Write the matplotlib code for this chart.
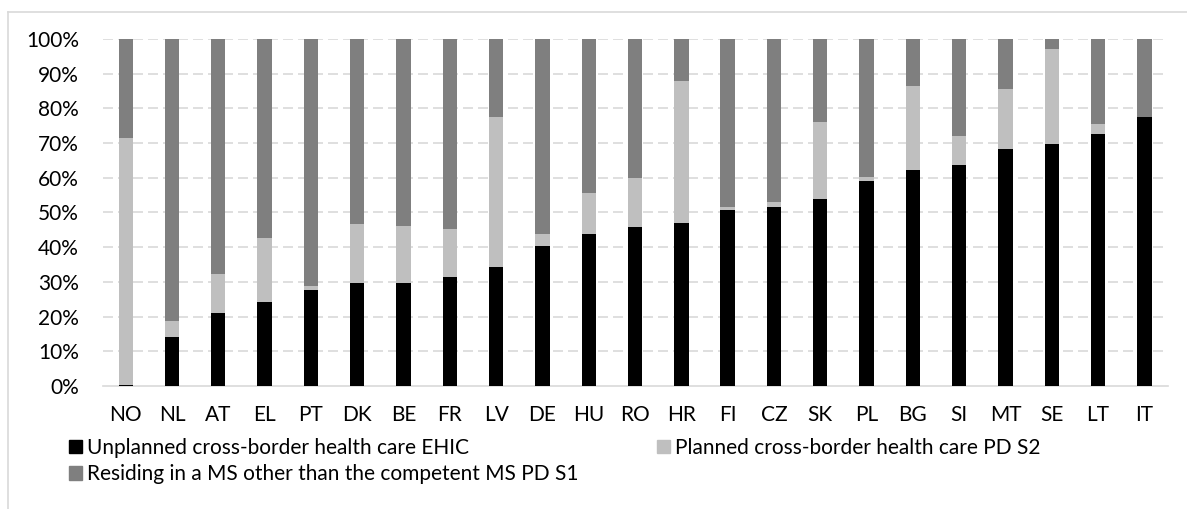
import matplotlib.pyplot as plt
from matplotlib.lines import Line2D
from matplotlib.patches import Patch

plt.rcParams['font.family'] = ['Lato', 'DejaVu Sans']

# 数据 (份额, %)
countries = ['NO', 'NL', 'AT', 'EL', 'PT', 'DK', 'BE', 'FR', 'LV', 'DE', 'HU', 'RO',
             'HR', 'FI', 'CZ', 'SK', 'PL', 'BG', 'SI', 'MT', 'SE', 'LT', 'IT']
ehic = [0.4, 14.2, 21.0, 24.2, 27.6, 29.6, 29.6, 31.5, 34.2, 40.2, 43.9, 45.9,
        47.1, 50.6, 51.6, 53.8, 59.1, 62.1, 63.7, 68.4, 69.7, 72.5, 77.4]
s2 = [71.1, 4.6, 11.4, 18.4, 1.1, 17.2, 16.5, 13.8, 43.4, 3.7, 11.8, 14.1,
      40.8, 0.9, 1.4, 22.4, 1.2, 24.4, 8.2, 17.3, 27.4, 3.1, 0.0]
s1 = [100 - a - b for a, b in zip(ehic, s2)]

labels = ['Unplanned cross-border health care EHIC',
          'Planned cross-border health care PD S2',
          'Residing in a MS other than the competent MS PD S1']
colors = ['#000000', '#bfbfbf', '#7f7f7f']

fig = plt.figure(figsize=(11.87, 5.09), dpi=100)
ax = fig.add_axes([0.0864, 0.2417, 0.8972, 0.6817])

x = list(range(len(countries)))
bottom2 = ehic
bottom3 = [a + b for a, b in zip(ehic, s2)]
ax.bar(x, ehic, width=0.31, color=colors[0], zorder=3)
ax.bar(x, s2, bottom=bottom2, width=0.31, color=colors[1], zorder=3)
ax.bar(x, s1, bottom=bottom3, width=0.31, color=colors[2], zorder=3)

ax.set_xlim(-0.5, len(countries) - 0.5)
ax.set_ylim(0, 100)
ax.set_yticks(range(0, 101, 10))
ax.set_yticklabels([f'{v}%' for v in range(0, 101, 10)])
ax.set_xticks(x)
ax.set_xticklabels(countries)
ax.tick_params(axis='both', length=0, labelsize=15, colors='#000000')
ax.tick_params(axis='y', pad=17)
ax.tick_params(axis='x', pad=14)

# 虚线网格
for v in range(10, 101, 10):
    ax.axhline(v, color='#d9d9d9', lw=1.2, ls=(0, (6, 3)), zorder=1)
for s in ['top', 'right', 'left']:
    ax.spines[s].set_visible(False)
ax.spines['bottom'].set_color('#d9d9d9')
ax.spines['bottom'].set_linewidth(1.2)

# 图表外框 (只显示左边和上边)
fig.add_artist(Line2D([8 / 1187, 1], [1 - 12 / 509, 1 - 12 / 509], color='#d9d9d9', lw=1.2))
fig.add_artist(Line2D([8 / 1187, 8 / 1187], [0, 1 - 12 / 509], color='#d9d9d9', lw=1.2))

h = [Patch(color=c) for c in colors]
leg_kw = dict(frameon=False, fontsize=15, handlelength=0.6, handleheight=0.6,
              handletextpad=0.25, borderpad=0, borderaxespad=0, labelspacing=0.3)
fig.legend([h[0], h[2]], [labels[0], labels[2]], loc='upper left',
           bbox_to_anchor=(69 / 1187, 1 - 438 / 509), **leg_kw)
fig.legend([h[1]], [labels[1]], loc='upper left',
           bbox_to_anchor=(657 / 1187, 1 - 438 / 509), **leg_kw)

plt.savefig('out.png', dpi=100)
